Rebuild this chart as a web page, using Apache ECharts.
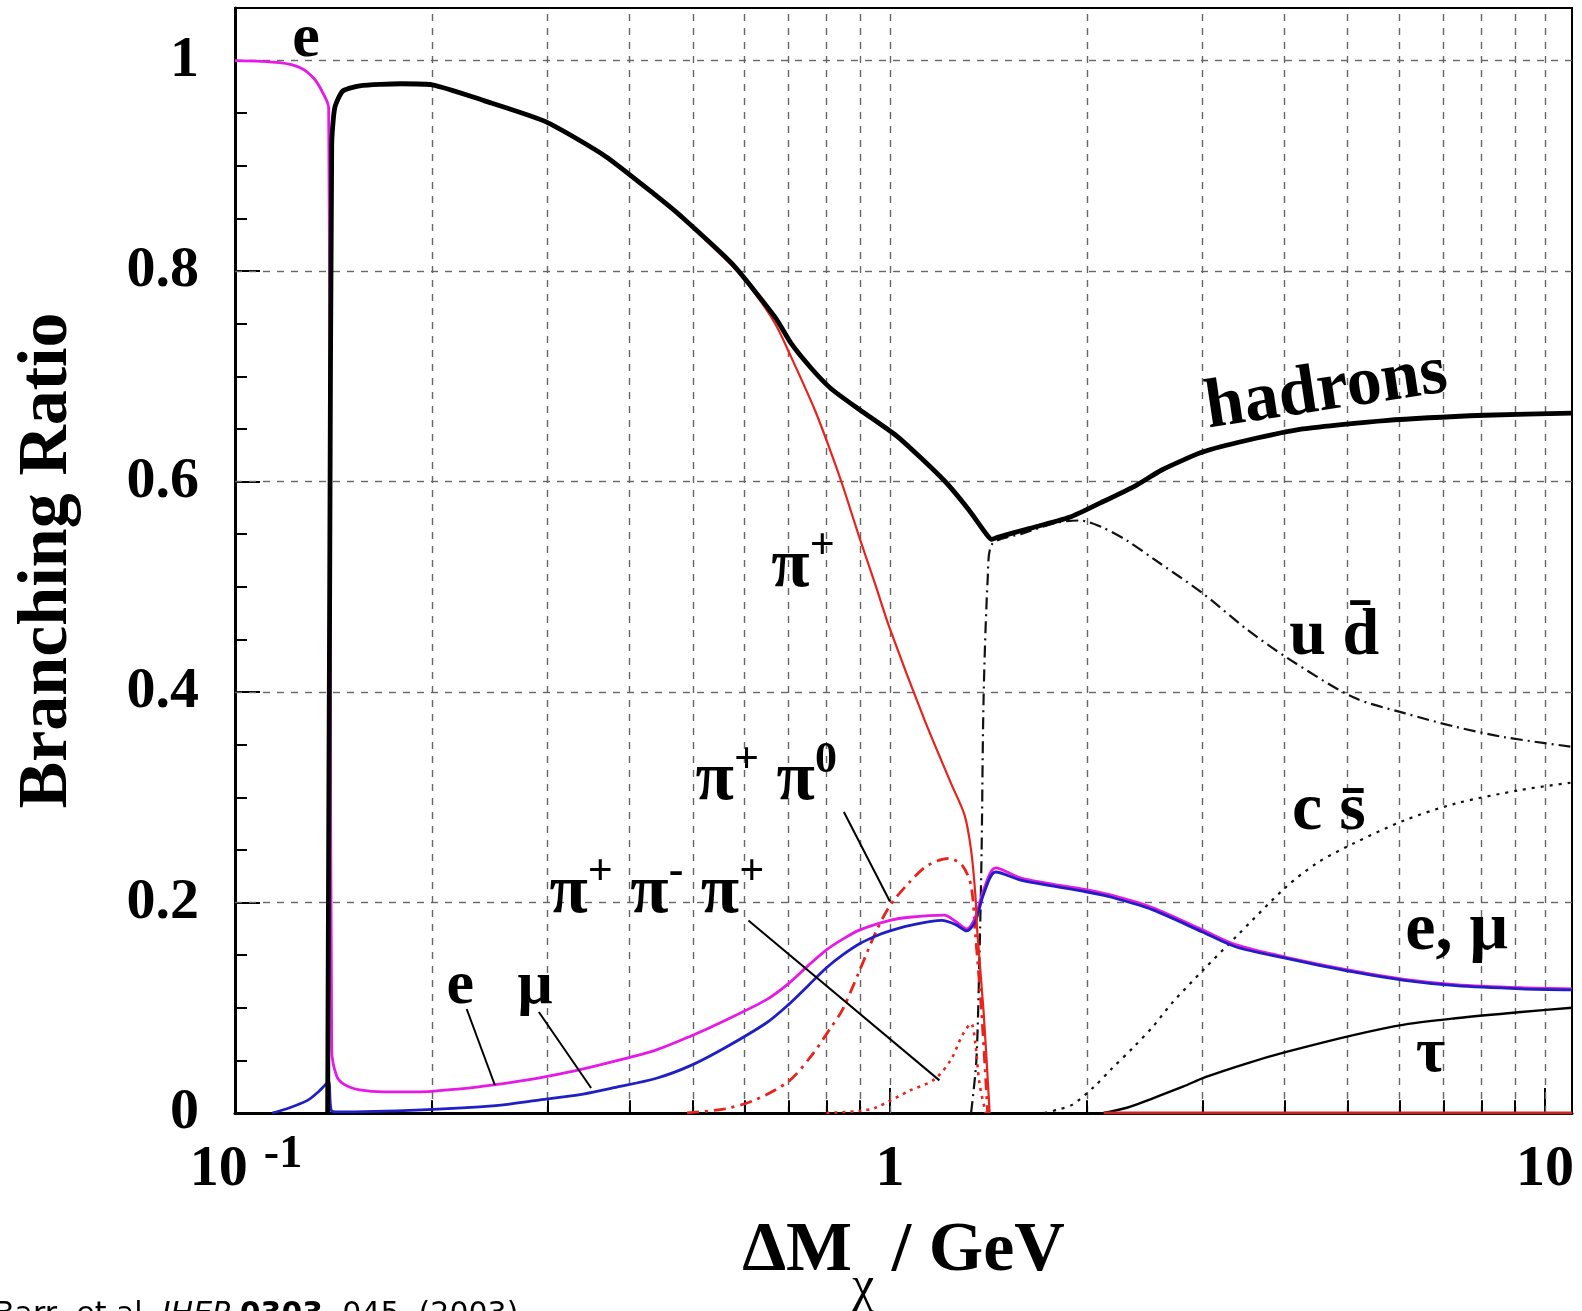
<!DOCTYPE html>
<html>
<head>
<meta charset="utf-8">
<script src="https://cdn.jsdelivr.net/npm/echarts@6/dist/echarts.min.js"></script>
<style>
  html, body { margin: 0; padding: 0; background: #fff; }
  #main { width: 1582px; height: 1311px; }
</style>
</head>
<body>
<div id="main"></div>
<script>
'use strict';

// axis ticks / grid
const xTickValues = [0.1, 1, 10];
const yTickValues = [0, 0.2, 0.4, 0.6, 0.8, 1];
const xGridValues = [0.2, 0.3, 0.4, 0.5, 0.6, 0.7, 0.8, 0.9, 1, 2, 3, 4, 5, 6, 7, 8, 9, 10];
const xMinorTickValues = [0.2, 0.3, 0.4, 0.5, 0.6, 0.7, 0.8, 0.9, 2, 3, 4, 5, 6, 7, 8, 9];
const yGridValues = [0.2, 0.4, 0.6, 0.8, 1];

// branching ratios, [deltaM (GeV), BR]
const hadrons = [[0.1385, 0], [0.1395, 0.5], [0.1405, 0.92], [0.142, 0.955], [0.146, 0.971], [0.155, 0.976],
  [0.179, 0.978], [0.2, 0.977], [0.24, 0.962], [0.298, 0.942], [0.368, 0.909], [0.441, 0.871], [0.48, 0.852],
  [0.574, 0.807], [0.668, 0.756], [0.707, 0.731], [0.76, 0.707], [0.814, 0.688], [0.9, 0.668], [1.03, 0.642],
  [1.21, 0.601], [1.32, 0.573], [1.4, 0.551], [1.43, 0.545], [1.46, 0.547], [1.6, 0.554], [1.88, 0.566],
  [2.1, 0.58], [2.37, 0.596], [2.6, 0.611], [3.0, 0.628], [3.5, 0.639], [4.27, 0.65], [5.7, 0.658],
  [8.1, 0.663], [11, 0.665]];

const piPlus = [[0.1385, 0], [0.1395, 0.5], [0.1405, 0.92], [0.142, 0.955], [0.146, 0.971], [0.155, 0.976],
  [0.179, 0.978], [0.2, 0.977], [0.24, 0.962], [0.298, 0.942], [0.368, 0.909], [0.441, 0.871], [0.48, 0.851],
  [0.574, 0.805], [0.62, 0.78], [0.668, 0.75], [0.707, 0.718], [0.768, 0.668], [0.808, 0.632], [0.846, 0.597],
  [0.897, 0.548], [0.95, 0.502], [1.0, 0.46], [1.13, 0.373], [1.24, 0.313], [1.3, 0.283], [1.33, 0.25],
  [1.35, 0.208], [1.36, 0.171], [1.39, 0.096], [1.42, 0]];
const piPlusTail = [[2.12, 0], [11, 0]];

const piPi0 = [[0.49, 0], [0.56, 0.004], [0.62, 0.012], [0.7, 0.03], [0.76, 0.055], [0.81, 0.08], [0.846, 0.098],
  [0.897, 0.134], [0.95, 0.171], [1.0, 0.197], [1.07, 0.219], [1.14, 0.235], [1.23, 0.242], [1.29, 0.235],
  [1.33, 0.216], [1.35, 0.171], [1.38, 0.096], [1.41, 0]];

const pi3 = [[0.8, 0], [0.9, 0.002], [0.95, 0.005], [1.07, 0.021], [1.17, 0.032], [1.24, 0.051], [1.29, 0.074],
  [1.33, 0.085], [1.35, 0.066], [1.37, 0.028], [1.4, 0]];

const electron = [[0.1, 1.0], [0.117, 0.998], [0.126, 0.993], [0.132, 0.983], [0.136, 0.97], [0.139, 0.955],
  [0.1398, 0.5], [0.1405, 0.06], [0.143, 0.035], [0.147, 0.027], [0.155, 0.022], [0.169, 0.02], [0.19, 0.02],
  [0.221, 0.023], [0.25, 0.027], [0.289, 0.033], [0.33, 0.04], [0.379, 0.049], [0.44, 0.06], [0.496, 0.073],
  [0.56, 0.088], [0.649, 0.108], [0.7, 0.123], [0.75, 0.14], [0.8, 0.155], [0.846, 0.165], [0.9, 0.174],
  [1.0, 0.183], [1.07, 0.186], [1.21, 0.188], [1.26, 0.182], [1.31, 0.175], [1.35, 0.186], [1.39, 0.212],
  [1.45, 0.233], [1.59, 0.223], [2.0, 0.212], [2.18, 0.207], [2.52, 0.195], [3.0, 0.174], [3.37, 0.16],
  [4.03, 0.148], [5.1, 0.135], [6.1, 0.127], [7.3, 0.122], [9.2, 0.119], [11, 0.118]];

const muon = [[0.114, 0], [0.12, 0.004], [0.129, 0.012], [0.134, 0.02], [0.137, 0.026], [0.139, 0.03],
  [0.1402, 0.003], [0.143, 0.001], [0.193, 0.003], [0.25, 0.007], [0.289, 0.012], [0.34, 0.018], [0.379, 0.024],
  [0.44, 0.033], [0.496, 0.045], [0.56, 0.062], [0.649, 0.086], [0.7, 0.103], [0.75, 0.121], [0.8, 0.138],
  [0.846, 0.15], [0.9, 0.161], [0.95, 0.168], [1.0, 0.173], [1.07, 0.178], [1.2, 0.183], [1.26, 0.179],
  [1.31, 0.173], [1.35, 0.182], [1.39, 0.208], [1.45, 0.229], [1.59, 0.221], [2.0, 0.21], [2.18, 0.205],
  [2.52, 0.193], [3.0, 0.172], [3.37, 0.158], [4.03, 0.147], [5.1, 0.134], [6.1, 0.126], [7.3, 0.121],
  [9.2, 0.118], [11, 0.117]];

const udbar = [[1.33, 0], [1.355, 0.05], [1.37, 0.15], [1.38, 0.246], [1.39, 0.395], [1.41, 0.507], [1.43, 0.54],
  [1.6, 0.551], [1.8, 0.561], [1.95, 0.563], [2.1, 0.557], [2.3, 0.544], [2.52, 0.527], [3.0, 0.494],
  [3.5, 0.46], [4.03, 0.433], [5.1, 0.395], [6.1, 0.38], [7.3, 0.367], [8.7, 0.357], [11, 0.348]];

const csbar = [[1.72, 0], [1.8, 0.003], [1.9, 0.008], [2.05, 0.025], [2.18, 0.042], [2.35, 0.062], [2.52, 0.082],
  [2.7, 0.105], [3.01, 0.136], [3.37, 0.167], [4.03, 0.215], [4.5, 0.238], [5.1, 0.256], [6.1, 0.278],
  [7.3, 0.294], [9.2, 0.307], [11, 0.314]];

const tau = [[2.12, 0], [2.3, 0.005], [2.52, 0.014], [2.8, 0.025], [3.03, 0.034], [3.5, 0.047], [4.03, 0.058],
  [5.1, 0.074], [6.1, 0.084], [7.3, 0.09], [9.2, 0.096], [11, 0.1]];

// label leader lines
const leaderPiPi0 = [[0.8505, 0.286], [1.0, 0.201]];
const leaderPi3 = [[0.608, 0.183], [1.19, 0.031]];
const leaderE = [[0.2258, 0.0988], [0.2493, 0.0266]];
const leaderMu = [[0.291, 0.096], [0.3497, 0.0237]];

const SERIF = '"Liberation Serif", "Times New Roman", serif';

function curve(name, data, color, width, type, smooth) {
  return {
    name: name,
    type: 'line',
    data: data,
    showSymbol: false,
    symbol: 'none',
    smooth: smooth === undefined ? 0.3 : smooth,
    lineStyle: { color: color, width: width, type: type || 'solid' },
    emphasis: { disabled: true },
    silent: true,
    animation: false
  };
}

let chart = echarts.init(document.getElementById('main'));

// dashed grid behind the curves
let cs = curve('c sbar', csbar, '#111', 2.2, [3, 6]);
cs.markLine = {
  z: 1,
  silent: true,
  animation: false,
  symbol: ['none', 'none'],
  label: { show: false },
  lineStyle: { color: '#666', width: 1.4, type: [7, 7] },
  data: xGridValues.map(v => ({ xAxis: v })).concat(yGridValues.map(v => ({ yAxis: v })))
};

// short ticks on the log axis between decades
let tauSeries = curve('tau', tau, '#000', 2.4, 'solid');
tauSeries.markLine = {
  z: 3,
  silent: true,
  animation: false,
  symbol: ['none', 'none'],
  label: { show: false },
  lineStyle: { color: '#000', width: 2, type: 'solid' },
  data: xMinorTickValues.map(v => [{ coord: [v, 0] }, { coord: [v, 0.012] }])
};

chart.setOption({
  backgroundColor: '#fff',
  animation: false,
  grid: {
    left: 235, right: 10, top: 8, bottom: 198,
    show: true, borderColor: '#000', borderWidth: 2,
    outerBoundsMode: 'none'
  },
  xAxis: {
    type: 'log',
    logBase: 10,
    min: 0.1,
    max: 11,
    name: '{n|ΔM}{c|χ}{n| / GeV}',
    nameLocation: 'middle',
    nameGap: 104,
    nameTextStyle: {
      color: '#000',
      rich: {
        n: { fontFamily: SERIF, fontWeight: 'bold', fontSize: 70, lineHeight: 70, verticalAlign: 'top', color: '#000' },
        c: { fontFamily: SERIF, fontSize: 50, lineHeight: 20, padding: [46, 0, 0, 0], verticalAlign: 'top', color: '#000' }
      }
    },
    axisLine: { show: true, lineStyle: { color: '#000', width: 3 } },
    axisTick: { show: true, inside: true, length: 25, lineStyle: { color: '#000', width: 2 } },
    splitLine: { show: false },
    axisLabel: {
      margin: 19,
      formatter: function (v) {
        if (Math.abs(v - 0.1) < 1e-9) return '{a|10}{s|-1}';
        if (Math.abs(v - 1) < 1e-9) return '{b|1}';
        if (Math.abs(v - 10) < 1e-6) return '{b|10}';
        return '';
      },
      rich: {
        a: { fontFamily: SERIF, fontWeight: 'bold', fontSize: 58, lineHeight: 58, padding: [18, 0, 0, 22], color: '#000' },
        b: { fontFamily: SERIF, fontWeight: 'bold', fontSize: 58, lineHeight: 58, padding: [18, 0, 0, 0], color: '#000' },
        s: { fontFamily: SERIF, fontWeight: 'bold', fontSize: 46, lineHeight: 34, verticalAlign: 'top', padding: [0, 0, 0, 16], color: '#000' }
      }
    }
  },
  yAxis: {
    type: 'value',
    min: 0,
    max: 1.05,
    interval: 0.2,
    name: 'Branching Ratio',
    nameLocation: 'middle',
    nameRotate: 90,
    nameGap: 152,
    nameTextStyle: { fontFamily: SERIF, fontWeight: 'bold', fontSize: 70, color: '#000' },
    axisLine: { show: true, lineStyle: { color: '#000', width: 3 } },
    axisTick: { show: true, inside: true, length: 25, lineStyle: { color: '#000', width: 2 } },
    minorTick: { show: true, splitNumber: 4, length: 12, lineStyle: { color: '#000', width: 2 } },
    splitLine: { show: false },
    axisLabel: {
      margin: 36,
      color: '#000',
      fontFamily: SERIF,
      fontWeight: 'bold',
      fontSize: 58,
      formatter: function (v) {
        if (v > 1.001) return '';
        let hit = yTickValues.find(t => Math.abs(t - v) < 1e-6);
        if (hit === undefined) return '';
        return hit === 0 ? '0' : (hit === 1 ? '1' : hit.toFixed(1));
      }
    }
  },
  series: [
    cs,
    curve('u dbar', udbar, '#111', 2.2, [12, 5, 2, 5]),
    tauSeries,
    curve('pi+ pi- pi+', pi3, '#e8221c', 2.6, [3, 5]),
    curve('pi+ pi0', piPi0, '#e8221c', 2.8, [12, 6, 3, 6]),
    curve('e', electron, '#e619e6', 2.8, 'solid'),
    curve('mu', muon, '#1f1fc4', 2.8, 'solid'),
    curve('pi+', piPlus, '#e8221c', 2.2, 'solid'),
    curve('pi+ tail', piPlusTail, '#c8282a', 3, 'solid', false),
    curve('hadrons', hadrons, '#000', 4.8, 'solid', 0.2),
    curve('leader pi+pi0', leaderPiPi0, '#000', 2, 'solid', false),
    curve('leader pi3', leaderPi3, '#000', 2, 'solid', false),
    curve('leader e', leaderE, '#000', 2, 'solid', false),
    curve('leader mu', leaderMu, '#000', 2, 'solid', false)
  ]
});

// text annotations, anchored in data coordinates
const labelPos = {
  eTop: [0.1284, 1.02],
  hadrons: [4.637, 0.6857],
  ud: [4.07, 0.4527],
  cs: [4.112, 0.287],
  emuRight: [6.12, 0.1728],
  tau: [6.35, 0.056],
  eLow: [0.2104, 0.1197],
  muLow: [0.27, 0.1197],
  piPlus: [0.659, 0.559],
  piPi0: [0.505, 0.356],
  pi3: [0.302, 0.249]
};

const toPx = p => chart.convertToPixel({ gridIndex: 0 }, p);

const supRich = {
  b: { fontFamily: SERIF, fontWeight: 'bold', fontSize: 70, lineHeight: 70, padding: [16, 0, 0, 0], fill: '#000' },
  s: { fontFamily: SERIF, fontWeight: 'bold', fontSize: 44, lineHeight: 40, verticalAlign: 'top', fill: '#000' }
};

function plainText(key, text, size, align, rotation) {
  let p = toPx(labelPos[key]);
  return {
    type: 'text', x: p[0], y: p[1], rotation: rotation || 0, silent: true, z: 50,
    style: {
      text: text, align: align || 'left', verticalAlign: 'middle',
      fontFamily: SERIF, fontWeight: 'bold', fontSize: size, lineHeight: size, fill: '#000'
    }
  };
}

function supText(key, text) {
  let p = toPx(labelPos[key]);
  return {
    type: 'text', x: p[0], y: p[1], silent: true, z: 50,
    style: { text: text, align: 'left', verticalAlign: 'top', rich: supRich }
  };
}

chart.setOption({
  graphic: [
    plainText('eTop', 'e', 62, 'center'),
    plainText('hadrons', 'hadrons', 70, 'center', 0.15),
    plainText('ud', 'u d\u0304', 66),
    plainText('cs', 'c s\u0304', 68),
    plainText('emuRight', 'e, μ', 68),
    plainText('tau', 'τ', 64),
    plainText('eLow', 'e', 62),
    plainText('muLow', 'μ', 62),
    supText('piPlus', '{b|π}{s|+}'),
    supText('piPi0', '{b|π}{s|+}{b| π}{s|0}'),
    supText('pi3', '{b|π}{s|+}{b| π}{s|-}{b| π}{s|+}'),
    {
      type: 'text', x: -6, y: 1300, silent: true, z: 50,
      style: {
        text: '{n|Barr, et al. }{i|JHEP }{b|0303}{n|, 045, (2003)}',
        align: 'left', verticalAlign: 'top',
        rich: {
          n: { fontFamily: '"DejaVu Sans"', fontSize: 30, fill: '#000' },
          i: { fontFamily: '"DejaVu Sans"', fontStyle: 'italic', fontSize: 30, fill: '#000' },
          b: { fontFamily: '"DejaVu Sans"', fontWeight: 'bold', fontSize: 30, fill: '#000' }
        }
      }
    }
  ]
});
</script>
</body>
</html>
